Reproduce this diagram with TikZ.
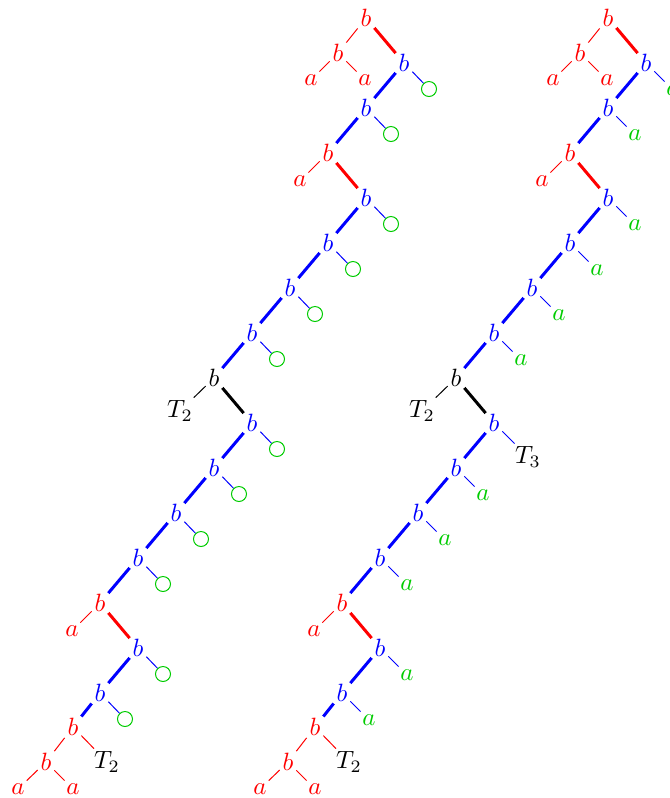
\documentclass[tikz,border=0pt]{standalone}
\usepackage{xcolor}
\usepackage{tikz}
\usetikzlibrary{positioning}
\definecolor{leafgreen}{RGB}{0,204,0}

\begin{document}
\begin{tikzpicture}[
    node distance=18pt and 15.2pt, on grid,
    lbl/.style={inner sep=1pt, text=#1},
    lbl/.default=black,
    ring/.style={circle, draw=leafgreen, minimum size=6pt, inner sep=0pt},
    spine/.style={line width=1.2pt, draw=#1},
    twig/.style={line width=0.4pt, draw=#1},
  ]
  \useasboundingbox (-146.4pt,7.2pt) rectangle (121.6pt,-312pt);

  \foreach \t/\xs in {l/0pt, r/96.8pt} {
    \node[lbl=red] (\t0) at (\xs,0) {$b$};
    \node[lbl=red, below left=14pt and 11.2pt of \t0] (\t0c) {$b$};
    \node[lbl=red, below left=10.8pt and 10.8pt of \t0c] (\t0ca) {$a$};
    \node[lbl=red, below right=10.8pt and 10.8pt of \t0c] (\t0cb) {$a$};
    \draw[twig=red] (\t0) -- (\t0c);
    \draw[twig=red] (\t0c) -- (\t0ca);
    \draw[twig=red] (\t0c) -- (\t0cb);

    % spine: index/side/colour/colour of the parent
    \foreach \i/\d/\c/\pc in {1/right/blue/red, 2/left/blue/blue, 3/left/red/blue,
        4/right/blue/red, 5/left/blue/blue, 6/left/blue/blue, 7/left/blue/blue,
        8/left/black/blue, 9/right/blue/black, 10/left/blue/blue, 11/left/blue/blue,
        12/left/blue/blue, 13/left/red/blue, 14/right/blue/red, 15/left/blue/blue} {
      \pgfmathtruncatemacro\p{\i-1}
      \node[lbl=\c, below \d=of \t\p] (\t\i) {$b$};
      \draw[spine=\pc] (\t\p) -- (\t\i);
    }

    \node[lbl=red, below left=11.2pt and 11.2pt of \t3] (\t3a) {$a$};
    \node[lbl=red, below left=11.2pt and 11.2pt of \t13] (\t13a) {$a$};
    \node[lbl, below left=13.2pt and 13.6pt of \t8] (\t8a) {$T_2$};
    \draw[twig=red] (\t3) -- (\t3a);
    \draw[twig=red] (\t13) -- (\t13a);
    \draw[twig=black] (\t8) -- (\t8a);

    % bottom end
    \node[lbl=red, below left=13.6pt and 10.8pt of \t15] (\t16) {$b$};
    \node[lbl=red, below left=14pt and 10.8pt of \t16] (\t17) {$b$};
    \node[lbl, below right=14pt and 13.6pt of \t16] (\t16a) {$T_2$};
    \node[lbl=red, below left=10.8pt and 11.2pt of \t17] (\t17a) {$a$};
    \node[lbl=red, below right=10.8pt and 10.8pt of \t17] (\t17b) {$a$};
    \draw[spine=blue] (\t15) -- (\t16);
    \draw[twig=red] (\t16) -- (\t17);
    \draw[twig=red] (\t16) -- (\t16a);
    \draw[twig=red] (\t17) -- (\t17a);
    \draw[twig=red] (\t17) -- (\t17b);
  }

  % leaves of the blue nodes
  \foreach \i in {1,2,4,5,6,7,9,10,11,12,14,15} {
    \node[ring, below right=10.4pt and 10pt of l\i] (l\i x) {};
    \draw[twig=blue] (l\i) -- (l\i x);
  }
  \foreach \i in {1,2,4,5,6,7,10,11,12,14,15} {
    \node[lbl=leafgreen, below right=10.8pt and 10.8pt of r\i] (r\i x) {$a$};
    \draw[twig=blue] (r\i) -- (r\i x);
  }
  \node[lbl, below right=13.6pt and 13.6pt of r9] (r9x) {$T_3$};
  \draw[twig=blue] (r9) -- (r9x);
\end{tikzpicture}
\end{document}
